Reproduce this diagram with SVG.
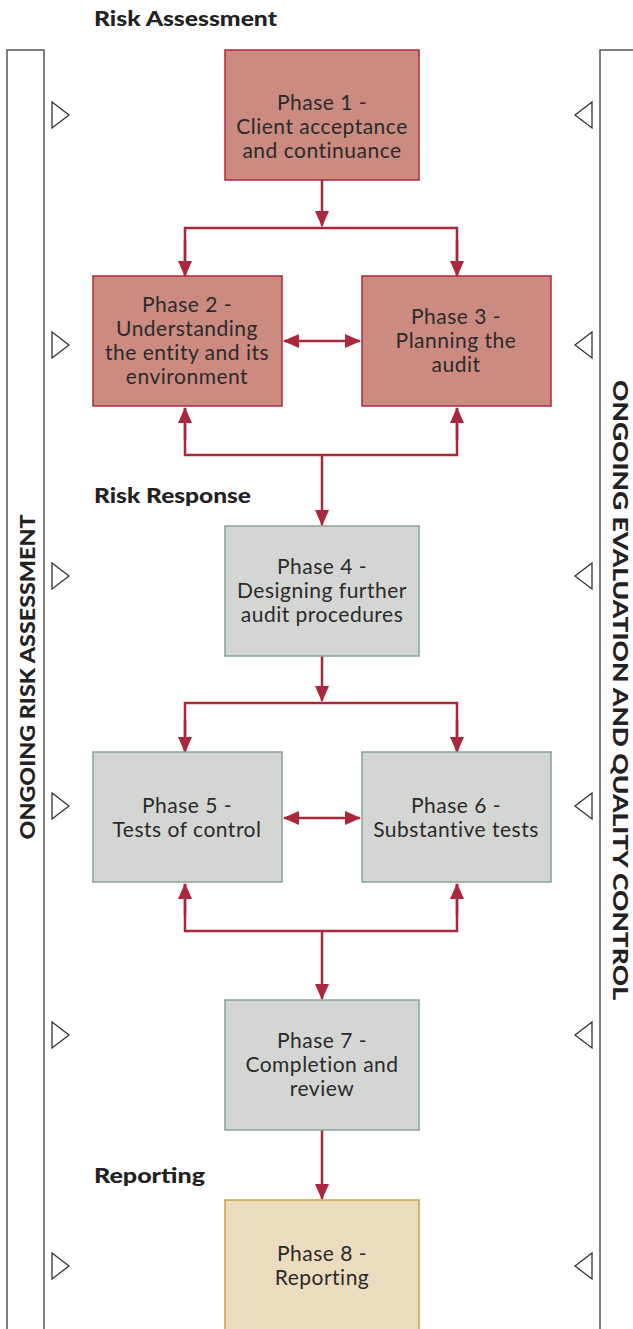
<svg xmlns="http://www.w3.org/2000/svg" width="633" height="1329" viewBox="0 0 633 1329">
<style>
.box1{fill:#cc8b80;stroke:#b0283c;stroke-width:1.5}
.box2{fill:#d4d6d3;stroke:#86a298;stroke-width:1.5}
.box3{fill:#ebdbbf;stroke:#c9a24e;stroke-width:1.5}
.t{font-family:Lato,"Open Sans","DejaVu Sans",sans-serif;font-size:21px;letter-spacing:0.5px;fill:#2a2a2a;text-anchor:middle}
.h{font-family:Lato,"Open Sans","DejaVu Sans",sans-serif;font-size:21px;font-weight:900;fill:#222}
.v{font-family:Lato,"Open Sans","DejaVu Sans",sans-serif;font-size:21px;font-weight:900;fill:#222;text-anchor:middle}
.side{fill:none;stroke:#555;stroke-width:1.5}
.tri{fill:#fff;stroke:#333;stroke-width:1.3}
.c{fill:none;stroke:#aa283b;stroke-width:2.5}
</style>
<defs>
<marker id="ah" markerUnits="userSpaceOnUse" markerWidth="16" markerHeight="14" refX="15" refY="7" orient="auto-start-reverse">
<path d="M0,0 L16,7 L0,14 Z" fill="#aa283b"/>
</marker>
</defs>

<g id="side-left">
<rect class="side" x="7" y="50" width="37" height="1300"/>
<text class="v" transform="translate(35,677) rotate(-90)" textLength="325" lengthAdjust="spacingAndGlyphs">ONGOING RISK ASSESSMENT</text>
<polygon class="tri" points="52,102 69,115 52,128"/>
<polygon class="tri" points="52,332 69,345 52,358"/>
<polygon class="tri" points="52,563 69,576 52,589"/>
<polygon class="tri" points="52,793 69,806 52,819"/>
<polygon class="tri" points="52,1022 69,1035 52,1048"/>
<polygon class="tri" points="52,1253 69,1266 52,1279"/>
</g>
<g id="side-right">
<rect class="side" x="600" y="50" width="50" height="1300"/>
<text class="v" transform="translate(613,690) rotate(90)" textLength="620" lengthAdjust="spacingAndGlyphs">ONGOING EVALUATION AND QUALITY CONTROL</text>
<polygon class="tri" points="592,102 575,115 592,128"/>
<polygon class="tri" points="592,332 575,345 592,358"/>
<polygon class="tri" points="592,563 575,576 592,589"/>
<polygon class="tri" points="592,793 575,806 592,819"/>
<polygon class="tri" points="592,1022 575,1035 592,1048"/>
<polygon class="tri" points="592,1253 575,1266 592,1279"/>
</g>

<g id="labels">
<text class="h" x="94" y="26" textLength="183" lengthAdjust="spacingAndGlyphs">Risk Assessment</text>
<text class="h" x="94" y="503" textLength="157" lengthAdjust="spacingAndGlyphs">Risk Response</text>
<text class="h" x="94" y="1183" textLength="111" lengthAdjust="spacingAndGlyphs">Reporting</text>
</g>

<g id="connectors">
<line class="c" x1="322" y1="180" x2="322" y2="226" marker-end="url(#ah)"/>
<polyline class="c" points="185,276 185,228 457,228 457,276"/>
<line class="c" x1="185" y1="240" x2="185" y2="276" marker-end="url(#ah)"/>
<line class="c" x1="457" y1="240" x2="457" y2="276" marker-end="url(#ah)"/>
<line class="c" x1="284" y1="341" x2="360" y2="341" marker-start="url(#ah)" marker-end="url(#ah)"/>
<polyline class="c" points="185,408 185,455 457,455 457,408"/>
<line class="c" x1="185" y1="440" x2="185" y2="408" marker-end="url(#ah)"/>
<line class="c" x1="457" y1="440" x2="457" y2="408" marker-end="url(#ah)"/>
<line class="c" x1="322" y1="455" x2="322" y2="525" marker-end="url(#ah)"/>

<line class="c" x1="322" y1="656" x2="322" y2="701" marker-end="url(#ah)"/>
<polyline class="c" points="185,752 185,703 457,703 457,752"/>
<line class="c" x1="185" y1="720" x2="185" y2="752" marker-end="url(#ah)"/>
<line class="c" x1="457" y1="720" x2="457" y2="752" marker-end="url(#ah)"/>
<line class="c" x1="284" y1="818" x2="360" y2="818" marker-start="url(#ah)" marker-end="url(#ah)"/>
<polyline class="c" points="185,884 185,931 457,931 457,884"/>
<line class="c" x1="185" y1="915" x2="185" y2="884" marker-end="url(#ah)"/>
<line class="c" x1="457" y1="915" x2="457" y2="884" marker-end="url(#ah)"/>
<line class="c" x1="322" y1="931" x2="322" y2="999" marker-end="url(#ah)"/>

<line class="c" x1="322" y1="1130" x2="322" y2="1199" marker-end="url(#ah)"/>
</g>

<g id="phase1">
<rect class="box1" x="225" y="50" width="194" height="130"/>
<text class="t" x="322" y="110">Phase 1 -</text>
<text class="t" x="322" y="134">Client acceptance</text>
<text class="t" x="322" y="158">and continuance</text>
</g>
<g id="phase2">
<rect class="box1" x="93" y="276" width="189" height="130"/>
<text class="t" x="187" y="312">Phase 2 -</text>
<text class="t" x="187" y="336">Understanding</text>
<text class="t" x="187" y="360">the entity and its</text>
<text class="t" x="187" y="384">environment</text>
</g>
<g id="phase3">
<rect class="box1" x="362" y="276" width="189" height="130"/>
<text class="t" x="456" y="324">Phase 3 -</text>
<text class="t" x="456" y="348">Planning the</text>
<text class="t" x="456" y="372">audit</text>
</g>
<g id="phase4">
<rect class="box2" x="225" y="526" width="194" height="130"/>
<text class="t" x="322" y="574">Phase 4 -</text>
<text class="t" x="322" y="598">Designing further</text>
<text class="t" x="322" y="622">audit procedures</text>
</g>
<g id="phase5">
<rect class="box2" x="93" y="752" width="189" height="130"/>
<text class="t" x="187" y="813">Phase 5 -</text>
<text class="t" x="187" y="837">Tests of control</text>
</g>
<g id="phase6">
<rect class="box2" x="362" y="752" width="189" height="130"/>
<text class="t" x="456" y="813">Phase 6 -</text>
<text class="t" x="456" y="837">Substantive tests</text>
</g>
<g id="phase7">
<rect class="box2" x="225" y="1000" width="194" height="130"/>
<text class="t" x="322" y="1048">Phase 7 -</text>
<text class="t" x="322" y="1072">Completion and</text>
<text class="t" x="322" y="1096">review</text>
</g>
<g id="phase8">
<rect class="box3" x="225" y="1200" width="194" height="140"/>
<text class="t" x="322" y="1261">Phase 8 -</text>
<text class="t" x="322" y="1285">Reporting</text>
</g>
</svg>
